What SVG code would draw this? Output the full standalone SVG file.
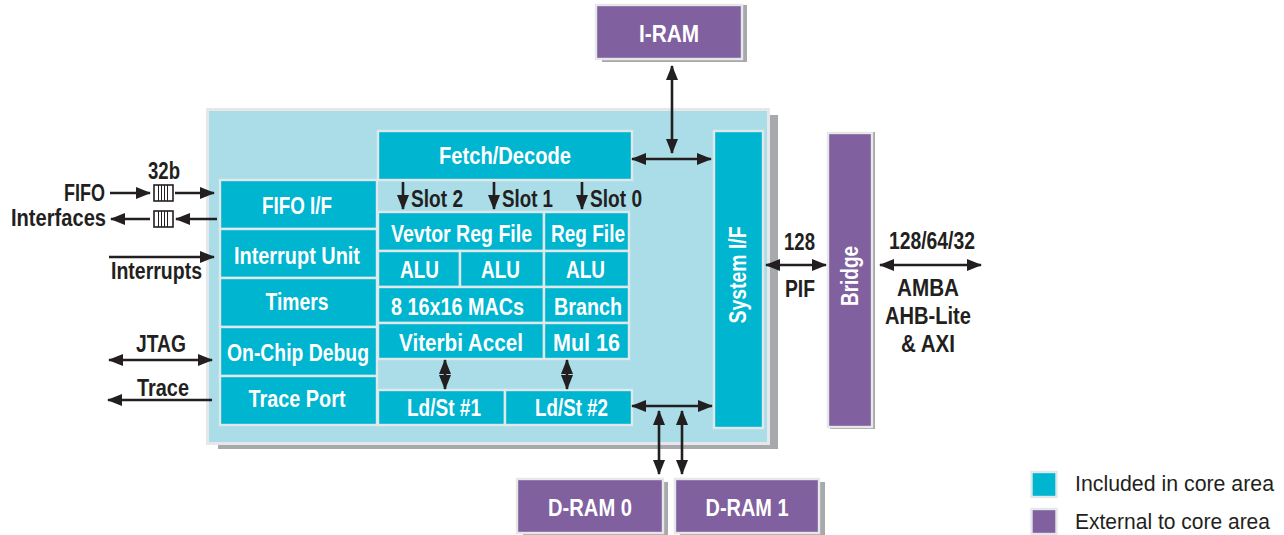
<svg xmlns="http://www.w3.org/2000/svg" width="1284" height="535" viewBox="0 0 1284 535">
<style>
.sh{fill:#a8a9ad}
.core{fill:#aaddE8;stroke:#e6e7e8;stroke-width:3}
.t{fill:#00b5cf;stroke:#dfe9ec;stroke-width:2.4}
.p{fill:#80609f;stroke:#e6e7e8;stroke-width:2.4}
text{font-family:"Liberation Sans",Arial,sans-serif;font-weight:700;font-size:23px;text-anchor:middle}
.w{fill:#fff}
.k{fill:#231f20}
.l{fill:#231f20;font-weight:400;text-anchor:start;font-size:22px}
.c{fill:none;stroke:#231f20;stroke-width:2.6}
.q{fill:#fff;stroke:#231f20;stroke-width:1.6}
.qi{fill:none;stroke:#231f20;stroke-width:1}
</style>
<defs>
<marker id="a" viewBox="0 0 15 12" refX="14" refY="6" markerUnits="userSpaceOnUse" markerWidth="15" markerHeight="12" orient="auto-start-reverse"><path d="M0 0L15 6L0 12Z" fill="#231f20"/></marker>
</defs>

<g id="core-area"><rect class="sh" x="218" y="115" width="560" height="334"/><rect class="core" x="207.500" y="109.500" width="561" height="334"/></g>

<g id="i-ram"><rect class="sh" x="602" y="5" width="145" height="57"/><rect class="p" x="596" y="5" width="146" height="54"/><text class="w" x="669" y="42" textLength="60" lengthAdjust="spacingAndGlyphs">I-RAM</text></g>
<g id="d-ram-0"><rect class="sh" x="523" y="482" width="145" height="54"/><rect class="p" x="517" y="479" width="146" height="54"/><text class="w" x="590" y="516" textLength="84" lengthAdjust="spacingAndGlyphs">D-RAM 0</text></g>
<g id="d-ram-1"><rect class="sh" x="680" y="482" width="145" height="54"/><rect class="p" x="675" y="479" width="144" height="54"/><text class="w" x="747" y="516" textLength="83" lengthAdjust="spacingAndGlyphs">D-RAM 1</text></g>
<g id="bridge"><rect class="sh" x="830" y="132" width="45" height="297"/><rect class="p" x="828" y="133" width="44" height="294"/><text class="w" transform="translate(858 276) rotate(-90)" textLength="60" lengthAdjust="spacingAndGlyphs">Bridge</text></g>
<g id="system-if"><rect class="t" x="714" y="131" width="49" height="297"/><text class="w" transform="translate(746 275) rotate(-90)" textLength="97" lengthAdjust="spacingAndGlyphs">System I/F</text></g>
<g id="fetch-decode"><rect class="t" x="378" y="131" width="254" height="49"/><text class="w" x="505" y="164" textLength="132" lengthAdjust="spacingAndGlyphs">Fetch/Decode</text></g>

<g id="fifo-if"><rect class="t" x="220" y="180" width="157" height="49"/><text class="w" x="297" y="214" textLength="70" lengthAdjust="spacingAndGlyphs">FIFO I/F</text></g>
<g id="interrupt-unit"><rect class="t" x="220" y="229" width="157" height="49"/><text class="w" x="297" y="264" textLength="126" lengthAdjust="spacingAndGlyphs">Interrupt Unit</text></g>
<g id="timers"><rect class="t" x="220" y="278" width="157" height="49"/><text class="w" x="297" y="310" textLength="63" lengthAdjust="spacingAndGlyphs">Timers</text></g>
<g id="on-chip-debug"><rect class="t" x="220" y="327" width="157" height="49"/><text class="w" x="298" y="361" textLength="142" lengthAdjust="spacingAndGlyphs">On-Chip Debug</text></g>
<g id="trace-port"><rect class="t" x="220" y="376" width="157" height="49"/><text class="w" x="297" y="407" textLength="97" lengthAdjust="spacingAndGlyphs">Trace Port</text></g>

<g id="vector-reg-file"><rect class="t" x="378" y="212" width="166" height="39"/><text class="w" x="461.500" y="242" textLength="141" lengthAdjust="spacingAndGlyphs">Vevtor Reg File</text></g>
<g id="reg-file"><rect class="t" x="544" y="212" width="85" height="39"/><text class="w" x="588" y="242" textLength="74" lengthAdjust="spacingAndGlyphs">Reg File</text></g>
<g id="alu-1"><rect class="t" x="378" y="251" width="82" height="36"/><text class="w" x="419.500" y="278" textLength="39" lengthAdjust="spacingAndGlyphs">ALU</text></g>
<g id="alu-2"><rect class="t" x="460" y="251" width="84" height="36"/><text class="w" x="500.500" y="278" textLength="39" lengthAdjust="spacingAndGlyphs">ALU</text></g>
<g id="alu-3"><rect class="t" x="544" y="251" width="85" height="36"/><text class="w" x="585.500" y="278" textLength="39" lengthAdjust="spacingAndGlyphs">ALU</text></g>
<g id="macs"><rect class="t" x="378" y="287" width="166" height="36"/><text class="w" x="457.500" y="315" textLength="133" lengthAdjust="spacingAndGlyphs">8 16x16 MACs</text></g>
<g id="branch"><rect class="t" x="544" y="287" width="85" height="36"/><text class="w" x="588" y="315" textLength="68" lengthAdjust="spacingAndGlyphs">Branch</text></g>
<g id="viterbi"><rect class="t" x="378" y="323" width="166" height="36"/><text class="w" x="461" y="351" textLength="124" lengthAdjust="spacingAndGlyphs">Viterbi Accel</text></g>
<g id="mul16"><rect class="t" x="544" y="323" width="85" height="36"/><text class="w" x="586.500" y="351" textLength="67" lengthAdjust="spacingAndGlyphs">Mul 16</text></g>
<g id="ldst-1"><rect class="t" x="378" y="390" width="127" height="35"/><text class="w" x="444" y="416" textLength="74" lengthAdjust="spacingAndGlyphs">Ld/St #1</text></g>
<g id="ldst-2"><rect class="t" x="505" y="390" width="127" height="35"/><text class="w" x="571.500" y="416" textLength="73" lengthAdjust="spacingAndGlyphs">Ld/St #2</text></g>

<g id="connectors">
<path class="c" marker-end="url(#a)" d="M110 193H150"/>
<path class="c" marker-end="url(#a)" d="M175 193H214"/>
<path class="c" marker-end="url(#a)" d="M150 219H111"/>
<path class="c" marker-end="url(#a)" d="M217 219H176"/>
<path class="c" marker-end="url(#a)" d="M109 257H214"/>
<path class="c" marker-start="url(#a)" marker-end="url(#a)" d="M109 360H212"/>
<path class="c" marker-end="url(#a)" d="M212 400H108"/>
<path class="c" marker-start="url(#a)" marker-end="url(#a)" d="M672 66V153"/>
<path class="c" marker-start="url(#a)" marker-end="url(#a)" d="M632 159H711"/>
<path class="c" marker-end="url(#a)" d="M403 182V209"/>
<path class="c" marker-end="url(#a)" d="M494 182V209"/>
<path class="c" marker-end="url(#a)" d="M582 182V209"/>
<path class="c" marker-start="url(#a)" marker-end="url(#a)" d="M445 360V389"/>
<path class="c" marker-start="url(#a)" marker-end="url(#a)" d="M567 360V389"/>
<path class="c" marker-start="url(#a)" marker-end="url(#a)" d="M632 406H712"/>
<path class="c" marker-start="url(#a)" marker-end="url(#a)" d="M659 411V474"/>
<path class="c" marker-start="url(#a)" marker-end="url(#a)" d="M682 411V474"/>
<path class="c" marker-start="url(#a)" marker-end="url(#a)" d="M766 265H826"/>
<path class="c" marker-start="url(#a)" marker-end="url(#a)" d="M880 265H981"/>
</g>

<g id="fifo-queue-in"><rect class="q" x="154" y="185" width="19" height="16"/><path class="qi" d="M158.500 185V201M161.500 185V201M164.500 185V201M167.500 185V201"/></g>
<g id="fifo-queue-out"><rect class="q" x="154" y="211" width="19" height="16"/><path class="qi" d="M158.500 211V227M161.500 211V227M164.500 211V227M167.500 211V227"/></g>

<g id="labels">
<text class="k" x="164" y="179" textLength="32" lengthAdjust="spacingAndGlyphs">32b</text>
<text class="k" x="84.500" y="201" textLength="41" lengthAdjust="spacingAndGlyphs">FIFO</text>
<text class="k" x="58.500" y="226" textLength="95" lengthAdjust="spacingAndGlyphs">Interfaces</text>
<text class="k" x="156.500" y="279" textLength="91" lengthAdjust="spacingAndGlyphs">Interrupts</text>
<text class="k" x="161" y="352" textLength="50" lengthAdjust="spacingAndGlyphs">JTAG</text>
<text class="k" x="163" y="396" textLength="52" lengthAdjust="spacingAndGlyphs">Trace</text>
<text class="k" x="437" y="207" textLength="52" lengthAdjust="spacingAndGlyphs">Slot 2</text>
<text class="k" x="527.500" y="207" textLength="51" lengthAdjust="spacingAndGlyphs">Slot 1</text>
<text class="k" x="616" y="207" textLength="52" lengthAdjust="spacingAndGlyphs">Slot 0</text>
<text class="k" x="799.500" y="250" textLength="31" lengthAdjust="spacingAndGlyphs">128</text>
<text class="k" x="800" y="297" textLength="30" lengthAdjust="spacingAndGlyphs">PIF</text>
<text class="k" x="932" y="249" textLength="86" lengthAdjust="spacingAndGlyphs">128/64/32</text>
<text class="k" x="928" y="296" textLength="62" lengthAdjust="spacingAndGlyphs">AMBA</text>
<text class="k" x="928" y="324" textLength="86" lengthAdjust="spacingAndGlyphs">AHB-Lite</text>
<text class="k" x="928" y="352" textLength="54" lengthAdjust="spacingAndGlyphs">&amp; AXI</text>
</g>

<g id="legend">
<rect class="t" x="1031.500" y="472" width="25" height="25"/>
<rect class="p" x="1031.500" y="509" width="25" height="25"/>
<text class="l" x="1075" y="491" textLength="199" lengthAdjust="spacingAndGlyphs">Included in core area</text>
<text class="l" x="1075" y="529" textLength="195" lengthAdjust="spacingAndGlyphs">External to core area</text>
</g>
</svg>
